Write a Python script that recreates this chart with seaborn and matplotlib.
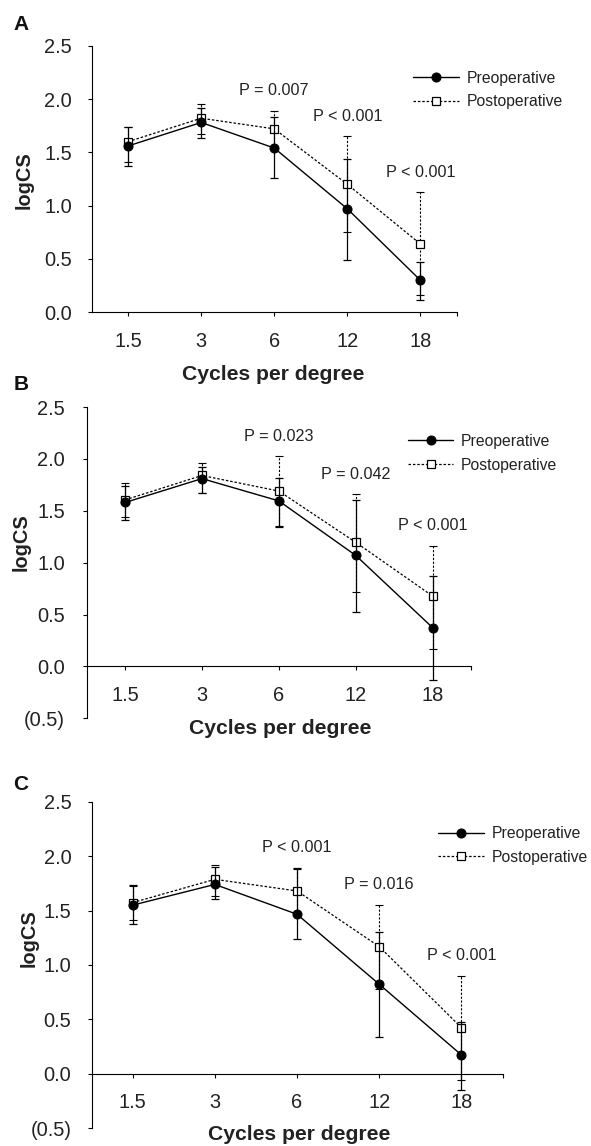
import matplotlib
matplotlib.use("Agg")
import matplotlib.pyplot as plt
import seaborn as sns
import numpy as np
import pandas as pd
from matplotlib.ticker import FuncFormatter, FixedLocator

# ---------------- data ----------------
categories = ["1.5", "3", "6", "12", "18"]
series_names = ["Preoperative", "Postoperative"]

# Panel A
A_pre = [1.56, 1.78, 1.54, 0.97, 0.30]
A_pre_lo = [1.375, 1.63, 1.26, 0.49, 0.12]
A_pre_hi = [1.74, 1.92, 1.83, 1.44, 0.475]
A_post = [1.60, 1.82, 1.72, 1.20, 0.64]
A_post_lo = [1.41, 1.67, 1.55, 0.756, 0.16]
A_post_hi = [1.74, 1.95, 1.89, 1.65, 1.125]
A_pvals = ["P = 0.007", "P < 0.001", "P < 0.001"]

# Panel B
B_pre = [1.58, 1.81, 1.595, 1.07, 0.374]
B_pre_lo = [1.41, 1.675, 1.34, 0.52, -0.128]
B_pre_hi = [1.74, 1.92, 1.82, 1.60, 0.87]
B_post = [1.605, 1.84, 1.69, 1.196, 0.678]
B_post_lo = [1.44, 1.67, 1.35, 0.716, 0.166]
B_post_hi = [1.77, 1.96, 2.03, 1.66, 1.164]
B_pvals = ["P = 0.023", "P = 0.042", "P < 0.001"]

# Panel C
C_pre = [1.55, 1.74, 1.466, 0.823, 0.174]
C_pre_lo = [1.374, 1.607, 1.24, 0.343, -0.147]
C_pre_hi = [1.735, 1.897, 1.888, 1.307, 0.48]
C_post = [1.573, 1.787, 1.68, 1.169, 0.425]
C_post_lo = [1.41, 1.63, 1.48, 0.777, -0.06]
C_post_hi = [1.73, 1.92, 1.88, 1.551, 0.90]
C_pvals = ["P < 0.001", "P = 0.016", "P < 0.001"]

pval_categories = ["6", "12", "18"]

# ---------------- style ----------------
sns.set_theme(style="ticks")
plt.rcParams["font.family"] = ["Liberation Sans", "DejaVu Sans"]
plt.rcParams["axes.linewidth"] = 0.8

W, H = 591, 1146
fig = plt.figure(figsize=(W / 100, H / 100), dpi=100)

layout = {
    "A": dict(rect=(91.6, 457.0, 45.7, 312.3), ylim=(0.0, 2.5), ypad=11,
              ylab=(24.5, 180), xlab=(272.7, 375), letter=(21, 24.5), leg=(413, 90)),
    "B": dict(rect=(86.7, 471.0, 407.0, 718.3), ylim=(-0.5, 2.5), ypad=12.5,
              ylab=(20.7, 541.7), xlab=(280.0, 728), letter=(21.6, 385), leg=(407.8, 453.3)),
    "C": dict(rect=(91.6, 502.5, 801.7, 1128.3), ylim=(-0.5, 2.5), ypad=11.5,
              ylab=(29.0, 938), xlab=(298.7, 1135), letter=(21, 784), leg=(438.4, 845.5)),
}

panels = {
    "A": (A_pre, A_pre_lo, A_pre_hi, A_post, A_post_lo, A_post_hi, A_pvals),
    "B": (B_pre, B_pre_lo, B_pre_hi, B_post, B_post_lo, B_post_hi, B_pvals),
    "C": (C_pre, C_pre_lo, C_pre_hi, C_post, C_post_lo, C_post_hi, C_pvals),
}


def fig_pt(x, y):
    return (x / W, 1 - y / H)


def ytick_fmt(v, pos):
    if v < -1e-9:
        return f"({abs(v):.1f})"
    return f"{abs(v):.1f}"


for key, (pre, pre_lo, pre_hi, post, post_lo, post_hi, pvals) in panels.items():
    L = layout[key]
    l, r, t, b = L["rect"]
    ax = fig.add_axes([l / W, 1 - b / H, (r - l) / W, (b - t) / H])

    pre = np.array(pre); post = np.array(post)
    pre_lo = np.array(pre_lo); pre_hi = np.array(pre_hi)
    post_lo = np.array(post_lo); post_hi = np.array(post_hi)

    # Postoperative (drawn first, below)
    eb = ax.errorbar(categories, post, yerr=[post - post_lo, post_hi - post], fmt="none",
                     ecolor="black", elinewidth=0.8, capsize=2.8, capthick=0.8, zorder=2,
                     clip_on=False)
    for lc in eb[2]:
        lc.set_linestyle((0, (2.0, 1.5)))
    df_post = pd.DataFrame({"cpd": categories, "logCS": post})
    sns.lineplot(data=df_post, x="cpd", y="logCS", ax=ax, sort=False, color="black",
                 linestyle=(0, (2.0, 1.5)), linewidth=0.9, marker="s", markersize=6.0,
                 markerfacecolor="white", markeredgecolor="black", markeredgewidth=0.9,
                 label=series_names[1], zorder=3, clip_on=False)

    # Preoperative
    ax.errorbar(categories, pre, yerr=[pre - pre_lo, pre_hi - pre], fmt="none",
                ecolor="black", elinewidth=0.9, capsize=2.8, capthick=0.9, zorder=4,
                clip_on=False)
    df_pre = pd.DataFrame({"cpd": categories, "logCS": pre})
    sns.lineplot(data=df_pre, x="cpd", y="logCS", ax=ax, sort=False, color="black",
                 linestyle="-", linewidth=1.0, marker="o", markersize=6.5,
                 markerfacecolor="black", markeredgecolor="black",
                 label=series_names[0], zorder=5, clip_on=False)

    # P-value annotations, placed just above the highest error bar of each category
    for cat, txt in zip(pval_categories, pvals):
        i = categories.index(cat)
        top = max(pre_hi[i], post_hi[i]) + 0.19
        ax.text(i, top, txt, ha="center", va="center", fontsize=11.6, color="#222222")

    # axes
    ax.set_xlim(-0.5, len(categories) - 0.5)
    ax.set_ylim(*L["ylim"])
    ax.set_xticks(range(len(categories)))
    ax.set_xticklabels(categories)
    ax.xaxis.set_minor_locator(FixedLocator([len(categories) - 0.5]))
    ax.set_yticks(np.arange(L["ylim"][0], 2.51, 0.5))
    ax.yaxis.set_major_formatter(FuncFormatter(ytick_fmt))
    ax.yaxis.set_minor_locator(FixedLocator([]))
    ax.tick_params(axis="both", which="both", direction="out", length=3, width=0.8,
                   color="black", labelsize=14.4, labelcolor="#222222")
    ax.tick_params(axis="x", which="both", pad=11)
    ax.tick_params(axis="y", pad=L["ypad"])
    for s in ("top", "right"):
        ax.spines[s].set_visible(False)
    for s in ("left", "bottom"):
        ax.spines[s].set_color("black")
        ax.spines[s].set_linewidth(0.8)
    ax.spines["bottom"].set_position(("data", 0))
    ax.grid(False)

    ax.set_ylabel("logCS", fontsize=14.4, fontweight="bold", color="#222222")
    ax.yaxis.set_label_coords(*fig_pt(*L["ylab"]), transform=fig.transFigure)
    ax.yaxis.label.set_va("center")
    ax.set_xlabel("Cycles per degree", fontsize=15.2, fontweight="bold", color="#222222")
    ax.xaxis.set_label_coords(*fig_pt(*L["xlab"]), transform=fig.transFigure)
    ax.xaxis.label.set_va("center")

    handles, labels = ax.get_legend_handles_labels()
    order = [labels.index(n) for n in series_names]
    ax.legend([handles[k] for k in order], [labels[k] for k in order],
              loc="center left", bbox_to_anchor=fig_pt(*L["leg"]),
              bbox_transform=fig.transFigure, frameon=False, borderpad=0,
              borderaxespad=0, handlelength=2.9, handletextpad=0.5,
              labelspacing=0.55, fontsize=11.3, labelcolor="#222222")

    fig.text(*fig_pt(*L["letter"]), key, ha="center", va="center",
             fontsize=15, fontweight="bold", color="#111111")

fig.savefig("out.png", dpi=100)
